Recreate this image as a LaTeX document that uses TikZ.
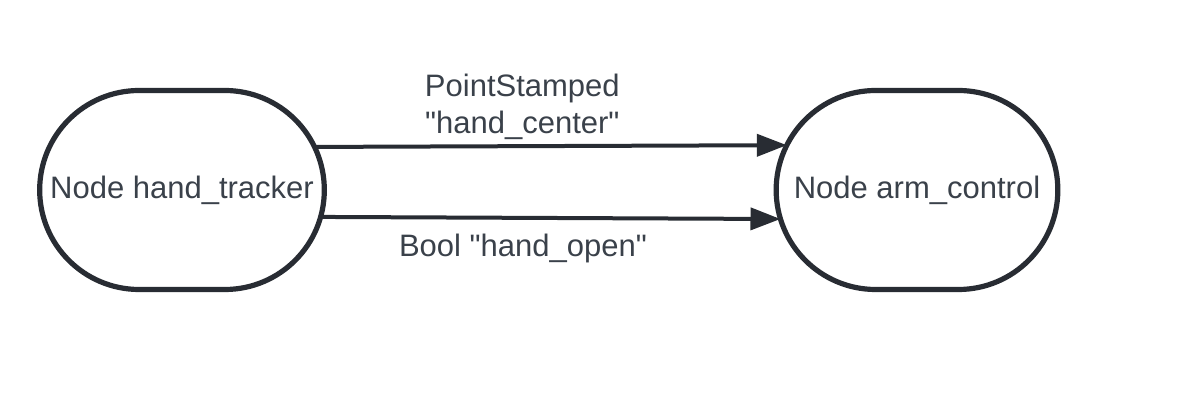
\documentclass[tikz,border=0pt]{standalone}
\usepackage{fontspec}
\setmainfont{Liberation Sans}
\usetikzlibrary{arrows.meta,shapes.misc}

\definecolor{linecol}{HTML}{282C33}
\definecolor{textcol}{HTML}{3A414A}

\begin{document}
\begin{tikzpicture}[x=0.5pt,y=0.5pt,
    rosnode/.style={rounded rectangle,draw=linecol,line width=2.6pt,
        fill=white,text=textcol,outer sep=0pt,minimum height=99.5pt,
        font=\fontsize{15.5pt}{18.5pt}\selectfont},
    topic/.style={-{Triangle[length=15pt,width=11pt]},draw=linecol,
        line width=2pt},
    topiclabel/.style={text=textcol,align=center,inner sep=2pt,
        font=\fontsize{15.5pt}{18.5pt}\selectfont}
]
\useasboundingbox (0,0) rectangle (1194,400);

% === Nodes ===
\node[rosnode,minimum width=149pt] (tracker) at (182,210) {Node hand\_tracker};
\node[rosnode,minimum width=147.5pt] (control) at (917,210) {Node arm\_control};

% === Topics ===
\draw[topic] (tracker.18.5) -- (control.161.3)
    node[topiclabel,above,pos=0.44] (centerlabel)
    {PointStamped\\\textquotedbl hand\_center\textquotedbl};
\draw[topic] (tracker.-11.1) -- (control.-168.8)
    node[topiclabel,below=5pt,pos=0.44] (openlabel)
    {Bool \textquotedbl hand\_open\textquotedbl};

\end{tikzpicture}
\end{document}
